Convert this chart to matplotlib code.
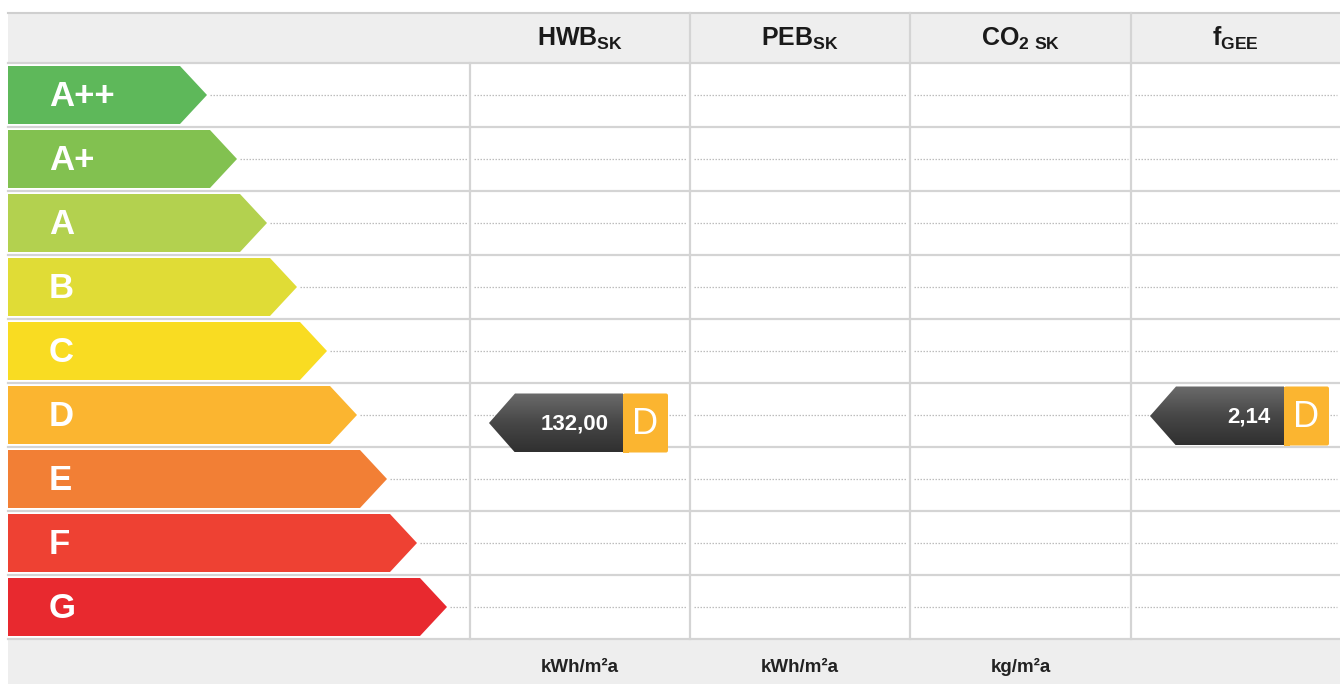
import matplotlib
matplotlib.use("Agg")
import matplotlib.pyplot as plt
import numpy as np
from matplotlib.patches import Polygon, Rectangle, FancyBboxPatch
from matplotlib.colors import LinearSegmentedColormap

plt.rcParams['font.family'] = ['Liberation Sans', 'DejaVu Sans']
plt.rcParams['mathtext.fontset'] = 'custom'
plt.rcParams['mathtext.rm'] = 'Liberation Sans'
plt.rcParams['mathtext.bf'] = 'Liberation Sans:bold'

# ---- data ----
classes = ["A++", "A+", "A", "B", "C", "D", "E", "F", "G"]
class_colors = ["#5eb85a", "#82c150", "#b3d14f", "#e0dc36", "#f9dc22",
                "#fbb530", "#f27f35", "#ee4133", "#e8292f"]
columns = [r"$\mathbf{HWB}_{\mathbf{SK}}$", r"$\mathbf{PEB}_{\mathbf{SK}}$",
           r"$\mathbf{CO}_{\mathbf{2\ SK}}$", r"$\mathbf{f}_{\mathbf{GEE}}$"]
units = ["kWh/m²a", "kWh/m²a", "kg/m²a", ""]
marker_cols = [0, 3]
marker_values = ["132,00", "2,14"]
marker_classes = ["D", "D"]

# ---- layout ----
W, H = 1340, 684
fig = plt.figure(figsize=(W / 100, H / 100), dpi=100)
ax = fig.add_axes([0, 0, 1, 1])
ax.set_xlim(0, W)
ax.set_ylim(H, 0)
ax.axis("off")

left = 8
head_top, head_bot = 13, 63
row_h = 64
foot_top = head_bot + row_h * len(classes)
col_x = [470, 690, 910, 1131, 1340]
grid_c = "#d4d4d4"

# header & footer backgrounds
ax.add_patch(Rectangle((left, head_top), W - left, head_bot - head_top, color="#eeeeee", lw=0, zorder=0))
ax.add_patch(Rectangle((left, foot_top), W - left, H - foot_top, color="#eeeeee", lw=0, zorder=0))
ax.plot([left, W], [head_top - 0.5, head_top - 0.5], color="#cfcfcf", lw=1.5, zorder=1)

# row lines
for i in range(len(classes) + 1):
    y = head_bot + i * row_h
    ax.plot([left, W], [y, y], color=grid_c, lw=1.6, zorder=1)

# column lines
ax.plot([col_x[0], col_x[0]], [head_bot, foot_top], color=grid_c, lw=1.6, zorder=1)
for x in col_x[1:4]:
    ax.plot([x, x], [head_top, foot_top], color=grid_c, lw=1.6, zorder=1)

# arrows + dotted lines
tip_depth = 27
for i, (lab, c) in enumerate(zip(classes, class_colors)):
    top = head_bot + i * row_h + 3
    bot = top + 58
    cy = (top + bot) / 2
    tip = 207 + 30 * i
    body = tip - tip_depth
    poly = Polygon([(left, top), (body, top), (tip, cy), (body, bot), (left, bot)],
                   closed=True, facecolor=c, edgecolor="none", zorder=2)
    ax.add_patch(poly)
    ax.text(49, cy + 1.5, lab, color="white", fontsize=25, fontweight="bold",
            ha="left", va="center", zorder=3)
    # dotted guide line, broken at columns
    ax.plot([tip + 3, col_x[0] - 3], [cy, cy], color="#bdbdbd", lw=0.9,
            ls=(0, (1.2, 1.2)), zorder=1)
    for j in range(4):
        ax.plot([col_x[j] + 4, col_x[j + 1] - 3], [cy, cy], color="#bdbdbd", lw=0.9,
                ls=(0, (1.2, 1.2)), zorder=1)

# header titles and footer units
for j, (t, u) in enumerate(zip(columns, units)):
    cx = (col_x[j] + col_x[j + 1]) / 2
    ax.text(cx, 46, t, fontsize=18, ha="center", va="baseline", color="#1a1a1a", zorder=3)
    if u:
        ax.text(cx, 672, u, fontsize=13.5, fontweight="bold", ha="center", va="baseline",
                color="#222222", zorder=3)

# markers
grad_cmap = LinearSegmentedColormap.from_list("g", ["#6b6b6b", "#474747", "#303030"])
grad = np.linspace(0, 1, 100).reshape(-1, 1)
y_offsets = [8, 1]
for k, (cj, val, cls) in enumerate(zip(marker_cols, marker_values, marker_classes)):
    ci = classes.index(cls)
    cy = head_bot + ci * row_h + 32 + y_offsets[k]
    x0 = col_x[cj] + 19
    x_tip_end = x0 + 26
    x_dark_end = x0 + 134
    x_end = x0 + 179
    top, bot = cy - 29.5, cy + 29.5
    poly = Polygon([(x0, cy), (x_tip_end, top), (x_dark_end, top), (x_dark_end, bot),
                    (x_tip_end, bot)], closed=True, facecolor="none", edgecolor="none", zorder=4)
    ax.add_patch(poly)
    im = ax.imshow(grad, extent=[x0, x_dark_end, bot, top], aspect="auto", cmap=grad_cmap,
                   origin="upper", zorder=4)
    im.set_clip_path(poly)
    box = FancyBboxPatch((x_dark_end, top), x_end - x_dark_end, bot - top,
                         boxstyle="round,pad=0,rounding_size=2",
                         facecolor=class_colors[ci], edgecolor="none", zorder=4)
    ax.add_patch(box)
    ax.add_patch(Rectangle((x_dark_end, top), 6, bot - top, facecolor=class_colors[ci],
                           edgecolor="none", zorder=4))
    ax.text(x_dark_end - 14, cy + 1, val, color="white", fontsize=16, fontweight="bold",
            ha="right", va="center", zorder=5)
    ax.text((x_dark_end + x_end) / 2, cy + 1.5, cls, color="white", fontsize=26,
            ha="center", va="center", zorder=5)

ax.set_xlim(0, W)
ax.set_ylim(H, 0)
fig.savefig("out.png", dpi=100, facecolor="white")
